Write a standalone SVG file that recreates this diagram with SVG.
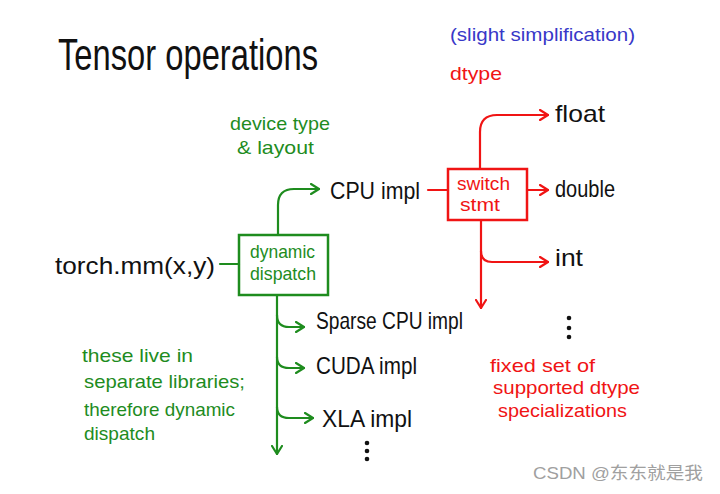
<svg xmlns="http://www.w3.org/2000/svg" width="720" height="494" viewBox="0 0 720 494">
<style>
text{font-family:"Liberation Sans","DejaVu Sans",sans-serif;}
.blk{fill:#111;font-size:24px;}
.title{fill:#111;font-size:45px;}
.g{fill:#1e8c1e;font-size:19px;}
.r{fill:#f01414;font-size:19px;}
.b{fill:#3838c8;font-size:19px;}
.gl{fill:none;stroke:#1e8c1e;stroke-width:2.2;stroke-linecap:round;stroke-linejoin:round;}
.rl{fill:none;stroke:#f01414;stroke-width:2.2;stroke-linecap:round;stroke-linejoin:round;}
.ga{marker-end:url(#ag);}
.ra{marker-end:url(#ar);}
.wm{fill:#a0a0a0;font-size:17px;font-family:"Liberation Sans","Noto Sans CJK SC",sans-serif;}
</style>
<defs>
<marker id="ag" viewBox="0 0 10 12" refX="9" refY="6" markerWidth="10" markerHeight="12" markerUnits="userSpaceOnUse" orient="auto">
<path d="M1,1 L9,6 L1,11" fill="none" stroke="#1e8c1e" stroke-width="2.2" stroke-linecap="round" stroke-linejoin="round"/>
</marker>
<marker id="ar" viewBox="0 0 10 12" refX="9" refY="6" markerWidth="10" markerHeight="12" markerUnits="userSpaceOnUse" orient="auto">
<path d="M1,1 L9,6 L1,11" fill="none" stroke="#f01414" stroke-width="2.2" stroke-linecap="round" stroke-linejoin="round"/>
</marker>
</defs>
<rect width="720" height="494" fill="#ffffff"/>

<g id="title"><text class="title" x="58" y="70" textLength="260" lengthAdjust="spacingAndGlyphs">Tensor operations</text></g>
<g id="note-simplification"><text class="b" x="450" y="41" textLength="185" lengthAdjust="spacingAndGlyphs">(slight simplification)</text></g>
<g id="label-dtype"><text class="r" x="450" y="80" font-size="22" textLength="52" lengthAdjust="spacingAndGlyphs">dtype</text></g>
<g id="label-device">
<text class="g" x="230" y="130" textLength="100" lengthAdjust="spacingAndGlyphs">device type</text>
<text class="g" x="237" y="154" textLength="77" lengthAdjust="spacingAndGlyphs">&amp; layout</text>
</g>

<g id="connectors">
<path class="gl" d="M220,264 H239"/>
<path class="gl ga" d="M278,235 V205 Q278,189 294,189 H319"/>
<path class="gl ga" d="M277,295 V454"/>
<path class="gl ga" d="M277,315 Q277,327 289,327 H304"/>
<path class="gl ga" d="M277,357 Q277,368 289,368 H304"/>
<path class="gl ga" d="M277,407 Q277,418 289,418 H313"/>
<path class="rl" d="M428,190 H448"/>
<path class="rl ra" d="M480,169 V132 Q480,115 497,115 H548"/>
<path class="rl ra" d="M527,190 H548"/>
<path class="rl ra" d="M481,220 V308"/>
<path class="rl ra" d="M481,251 Q481,262 492,262 H548"/>
</g>

<g id="torch-mm"><text class="blk" x="55" y="274" font-size="26" textLength="160" lengthAdjust="spacingAndGlyphs">torch.mm(x,y)</text></g>

<g id="dynamic-dispatch">
<rect x="239" y="235" width="89" height="60" fill="none" stroke="#1e8c1e" stroke-width="2.5"/>
<text class="g" x="250" y="258" font-size="18" textLength="65" lengthAdjust="spacingAndGlyphs">dynamic</text>
<text class="g" x="250" y="280" font-size="18" textLength="66" lengthAdjust="spacingAndGlyphs">dispatch</text>
</g>

<g id="cpu-impl"><text class="blk" x="330" y="199" textLength="90" lengthAdjust="spacingAndGlyphs">CPU impl</text></g>

<g id="switch-stmt">
<rect x="448" y="169" width="79" height="51" fill="none" stroke="#f01414" stroke-width="2.5"/>
<text class="r" x="457" y="190" font-size="18" textLength="53" lengthAdjust="spacingAndGlyphs">switch</text>
<text class="r" x="460" y="211" font-size="18" textLength="40" lengthAdjust="spacingAndGlyphs">stmt</text>
</g>

<g id="float"><text class="blk" x="555" y="122" textLength="50" lengthAdjust="spacingAndGlyphs">float</text></g>
<g id="double"><text class="blk" x="555" y="197" textLength="60" lengthAdjust="spacingAndGlyphs">double</text></g>
<g id="int"><text class="blk" x="555" y="266" textLength="28" lengthAdjust="spacingAndGlyphs">int</text></g>
<g id="dtype-more" fill="#111">
<circle cx="569" cy="318" r="2.3"/><circle cx="569" cy="328" r="2.3"/><circle cx="569" cy="337" r="2.3"/>
</g>

<g id="sparse-cpu-impl"><text class="blk" x="316" y="329" textLength="147" lengthAdjust="spacingAndGlyphs">Sparse CPU impl</text></g>
<g id="cuda-impl"><text class="blk" x="316" y="374" textLength="101" lengthAdjust="spacingAndGlyphs">CUDA impl</text></g>
<g id="xla-impl"><text class="blk" x="322" y="427" textLength="90" lengthAdjust="spacingAndGlyphs">XLA impl</text></g>
<g id="impl-more" fill="#111">
<circle cx="367" cy="443" r="2.3"/><circle cx="367" cy="451" r="2.3"/><circle cx="367" cy="459" r="2.3"/>
</g>

<g id="note-libraries">
<text class="g" x="82" y="362" textLength="111" lengthAdjust="spacingAndGlyphs">these live in</text>
<text class="g" x="84" y="388" textLength="161" lengthAdjust="spacingAndGlyphs">separate libraries;</text>
<text class="g" x="84" y="416" textLength="151" lengthAdjust="spacingAndGlyphs">therefore dynamic</text>
<text class="g" x="84" y="440" textLength="71" lengthAdjust="spacingAndGlyphs">dispatch</text>
</g>

<g id="note-specializations">
<text class="r" x="490" y="372" textLength="105" lengthAdjust="spacingAndGlyphs">fixed set of</text>
<text class="r" x="493" y="394" textLength="147" lengthAdjust="spacingAndGlyphs">supported dtype</text>
<text class="r" x="498" y="417" textLength="129" lengthAdjust="spacingAndGlyphs">specializations</text>
</g>

<g id="watermark"><text class="wm" x="533" y="479" textLength="170" lengthAdjust="spacingAndGlyphs">CSDN @东东就是我</text></g>
</svg>
